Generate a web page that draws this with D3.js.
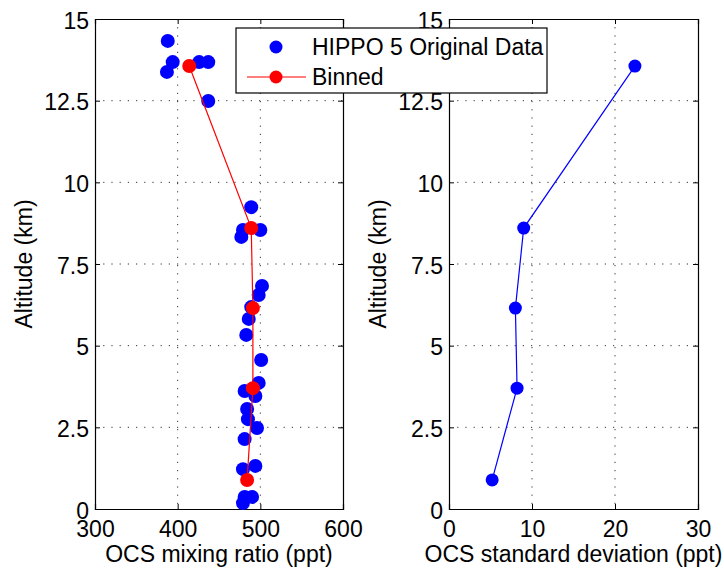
<!DOCTYPE html>
<html><head><meta charset="utf-8">
<script src="https://cdn.jsdelivr.net/npm/d3@7"></script>
<style>body{margin:0;background:#fff}svg{display:block}text{font-family:"Liberation Sans",Arial,sans-serif}</style>
</head><body><svg id="c" width="724" height="573"></svg>
<script>
// Original data: OCS mixing ratio (ppt) and altitude (km)
const origOCS = [388, 394, 387, 426, 437, 437, 489, 479, 500, 477, 502, 498, 489, 486, 483, 501, 498, 481, 494, 484, 485, 496, 481, 494, 479, 481, 490, 479];
const origAlt = [14.33, 13.68, 13.38, 13.68, 13.68, 12.49, 9.24, 8.54, 8.54, 8.33, 6.83, 6.55, 6.18, 5.82, 5.33, 4.56, 3.86, 3.61, 3.46, 3.06, 2.75, 2.48, 2.14, 1.32, 1.22, 0.37, 0.37, 0.18];
// Binned means
const binOCS = [414, 489, 491, 491, 484];
const binAlt = [13.56, 8.60, 6.15, 3.70, 0.89];
// Binned standard deviation (ppt)
const binStd = [22.4, 9.0, 8.0, 8.2, 5.2];
const leftXTicks = [300, 400, 500, 600];
const rightXTicks = [0, 10, 20, 30];
const yTicks = [0, 2.5, 5, 7.5, 10, 12.5, 15];
const legendLabels = ["HIPPO 5 Original Data", "Binned"];

const svg = d3.select("#c");
const FS = 23;
const yTop = 19, yBot = 509;
const y = d3.scaleLinear().domain([0, 15]).range([yBot, yTop]);

function panel(x0, x1, xdom, xticks, xlabel) {
  const x = d3.scaleLinear().domain(xdom).range([x0, x1]);
  const g = svg.append("g");
  g.append("g").selectAll("line").data(xticks.slice(1, -1)).join("line")
    .attr("x1", d => x(d)).attr("x2", d => x(d)).attr("y1", yTop).attr("y2", yBot)
    .attr("stroke", "#333").attr("stroke-width", 1).attr("stroke-dasharray", "1.2,7");
  g.append("g").selectAll("line").data(yTicks.slice(1, -1)).join("line")
    .attr("y1", d => y(d)).attr("y2", d => y(d)).attr("x1", x0).attr("x2", x1)
    .attr("stroke", "#333").attr("stroke-width", 1).attr("stroke-dasharray", "1.2,7");
  const ax = d3.axisBottom(x).tickValues(xticks).tickSize(-5).tickPadding(10).tickFormat(d3.format("d"));
  const axB = g.append("g").attr("transform", `translate(0,${yBot})`).call(ax);
  const ay = d3.axisLeft(y).tickValues(yTicks).tickSize(-5).tickPadding(6).tickFormat(d => String(d));
  const axL = g.append("g").attr("transform", `translate(${x0},0)`).call(ay);
  const axT = g.append("g").attr("transform", `translate(0,${yTop})`).call(d3.axisTop(x).tickValues(xticks).tickSize(-5).tickFormat(""));
  const axR = g.append("g").attr("transform", `translate(${x1},0)`).call(d3.axisRight(y).tickValues(yTicks).tickSize(-5).tickFormat(""));
  [axB, axL, axT, axR].forEach(a => {
    a.select(".domain").attr("stroke", "#000").attr("stroke-width", 1.2);
    a.selectAll(".tick line").attr("stroke", "#000");
    a.selectAll("text").attr("font-size", FS).attr("fill", "#000").attr("font-family", '"Liberation Sans",Arial,sans-serif');
  });
  axB.selectAll("text").attr("dy", "0.71em").attr("y", 12);
  axL.selectAll("text").attr("dy", "0.4em");
  svg.append("text").attr("x", (x0 + x1) / 2).attr("y", 562).attr("text-anchor", "middle")
    .attr("font-size", FS).text(xlabel);
  svg.append("text").attr("transform", `translate(${x0 - 63},${(yTop + yBot) / 2}) rotate(-90)`)
    .attr("text-anchor", "middle").attr("font-size", FS).text("Altitude (km)");
  return {x, g};
}

const L = panel(95, 343, [300, 600], leftXTicks, "OCS mixing ratio (ppt)");
const R = panel(449, 698, [0, 30], rightXTicks, "OCS standard deviation (ppt)");

L.g.append("g").selectAll("circle").data(origOCS.map((v, i) => [v, origAlt[i]])).join("circle")
  .attr("cx", d => L.x(d[0])).attr("cy", d => y(d[1])).attr("r", 7).attr("fill", "#0000ff");
const lineL = d3.line().x(d => L.x(d[0])).y(d => y(d[1]));
const binData = binOCS.map((v, i) => [v, binAlt[i]]);
L.g.append("path").datum(binData).attr("d", lineL).attr("fill", "none").attr("stroke", "#ff0000").attr("stroke-width", 1.2);
L.g.append("g").selectAll("circle").data(binData).join("circle")
  .attr("cx", d => L.x(d[0])).attr("cy", d => y(d[1])).attr("r", 7).attr("fill", "#ff0000");

const stdData = binStd.map((v, i) => [v, binAlt[i]]);
const lineR = d3.line().x(d => R.x(d[0])).y(d => y(d[1]));
R.g.append("path").datum(stdData).attr("d", lineR).attr("fill", "none").attr("stroke", "#0000ff").attr("stroke-width", 1.2);
R.g.append("g").selectAll("circle").data(stdData).join("circle")
  .attr("cx", d => R.x(d[0])).attr("cy", d => y(d[1])).attr("r", 6.5).attr("fill", "#0000ff");

const lg = svg.append("g");
lg.append("rect").attr("x", 236).attr("y", 28).attr("width", 311).attr("height", 65)
  .attr("fill", "#fff").attr("stroke", "#000").attr("stroke-width", 1.2);
lg.append("circle").attr("cx", 276).attr("cy", 47).attr("r", 6.5).attr("fill", "#0000ff");
lg.append("line").attr("x1", 247).attr("x2", 306).attr("y1", 77).attr("y2", 77).attr("stroke", "#ff0000").attr("stroke-width", 1.2);
lg.append("circle").attr("cx", 276).attr("cy", 77).attr("r", 6.5).attr("fill", "#ff0000");
lg.append("text").attr("x", 312).attr("y", 55).attr("font-size", FS).text(legendLabels[0]);
lg.append("text").attr("x", 312).attr("y", 85).attr("font-size", FS).text(legendLabels[1]);
</script></body></html>
